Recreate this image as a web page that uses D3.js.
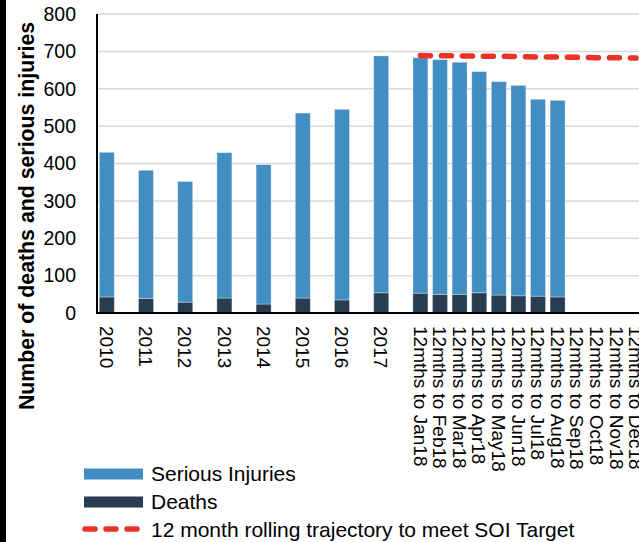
<!DOCTYPE html>
<html>
<head>
<meta charset="utf-8">
<script src="https://cdn.jsdelivr.net/npm/d3@7/dist/d3.min.js"></script>
<style>
  html, body { margin: 0; padding: 0; background: #fff; }
  svg { display: block; font-family: "Liberation Sans", Arial, sans-serif; }
</style>
</head>
<body>
<svg id="chart" width="639" height="542"></svg>
<script>
// Annual totals, then rolling 12-month totals for 2018
const categories = [
  "2010", "2011", "2012", "2013", "2014", "2015", "2016", "2017",
  "12mths to Jan18", "12mths to Feb18", "12mths to Mar18", "12mths to Apr18",
  "12mths to May18", "12mths to Jun18", "12mths to Jul18", "12mths to Aug18",
  "12mths to Sep18", "12mths to Oct18", "12mths to Nov18", "12mths to Dec18"
];
const annualCategories = ["2010", "2011", "2012", "2013", "2014", "2015", "2016", "2017"];

const deaths = [43, 39, 29, 40, 24, 40, 35, 54, 53, 50, 50, 54, 48, 46, 45, 43, null, null, null, null];
const seriousInjuries = [387, 343, 323, 389, 373, 495, 510, 634, 630, 628, 621, 592, 571, 563, 527, 526, null, null, null, null];

const trajectoryCategories = categories.slice(8);
const trajectory = [689, 688, 688, 687, 687, 686, 685, 685, 684, 683, 683, 682];

const yTicks = [0, 100, 200, 300, 400, 500, 600, 700, 800];

const colors = { serious: "#428ec2", deaths: "#283c52", target: "#ea3229", grid: "#d9d9d9" };

const svg = d3.select("#chart");
const W = 639, H = 542;
const plotLeft = 97, plotTop = 14, plotBottom = 313;

// Each annual column is followed by an empty spacer slot on the category axis
const slots = [];
categories.forEach(c => {
  slots.push(c);
  if (annualCategories.includes(c)) slots.push("gap " + c);
});

const step = 19.6;
const x = d3.scaleBand()
  .domain(slots)
  .range([plotLeft, plotLeft + slots.length * step])
  .paddingInner(0.235)
  .paddingOuter(0.1175);

const y = d3.scaleLinear().domain([0, 800]).range([plotBottom, plotTop]);

// frame edge at the left
svg.append("rect").attr("x", 0).attr("y", 0).attr("width", 6).attr("height", H).attr("fill", "#000");

// gridlines
svg.append("g").selectAll("line").data(yTicks.filter(t => t > 0)).join("line")
  .attr("x1", plotLeft).attr("x2", W)
  .attr("y1", d => y(d)).attr("y2", d => y(d))
  .attr("stroke", colors.grid).attr("stroke-width", 1.5);

// stacked bars
const rows = categories.map((c, i) => ({ c, d: deaths[i], s: seriousInjuries[i] })).filter(r => r.d != null);

const bars = svg.append("g");
bars.selectAll("rect.deaths").data(rows).join("rect")
  .attr("class", "deaths")
  .attr("x", r => x(r.c)).attr("width", x.bandwidth())
  .attr("y", r => y(r.d)).attr("height", r => y(0) - y(r.d))
  .attr("fill", colors.deaths)
  .attr("stroke", "#ffffff").attr("stroke-opacity", 0.35).attr("stroke-width", 0.8);
bars.selectAll("rect.serious").data(rows).join("rect")
  .attr("class", "serious")
  .attr("x", r => x(r.c)).attr("width", x.bandwidth())
  .attr("y", r => y(r.d + r.s)).attr("height", r => y(r.d) - y(r.d + r.s))
  .attr("fill", colors.serious)
  .attr("stroke", "#ffffff").attr("stroke-opacity", 0.45).attr("stroke-width", 0.8);

// target trajectory
const line = d3.line()
  .x((d, i) => x(trajectoryCategories[i]) + x.bandwidth() / 2)
  .y(d => y(d));
svg.append("path").datum(trajectory)
  .attr("d", line)
  .attr("fill", "none")
  .attr("stroke", colors.target).attr("stroke-width", 5.5)
  .attr("stroke-linecap", "round")
  .attr("stroke-dasharray", "10,11");

// y axis
const yAxis = d3.axisLeft(y).tickValues(yTicks).tickSize(0).tickPadding(21);
const gy = svg.append("g").attr("transform", `translate(${plotLeft},0)`).call(yAxis);
gy.select(".domain").remove();
gy.selectAll("text").attr("font-size", "19.5px").attr("fill", "#000")
  .attr("font-family", "'Liberation Sans', Arial, sans-serif");

svg.append("line").attr("x1", plotLeft).attr("x2", plotLeft).attr("y1", plotTop).attr("y2", plotBottom + 1)
  .attr("stroke", "#000").attr("stroke-width", 2);

// x axis
svg.append("line").attr("x1", plotLeft - 1).attr("x2", W).attr("y1", plotBottom).attr("y2", plotBottom)
  .attr("stroke", "#000").attr("stroke-width", 2);

const xAxis = d3.axisBottom(x).tickValues(categories).tickSize(0).tickPadding(0);
const gx = svg.append("g").attr("transform", `translate(0,${plotBottom})`).call(xAxis);
gx.select(".domain").remove();
gx.selectAll("text")
  .attr("font-size", "19px").attr("fill", "#000")
  .attr("font-family", "'Liberation Sans', Arial, sans-serif")
  .attr("text-anchor", "start")
  .attr("transform", "translate(0,13) rotate(90)")
  .attr("x", 0).attr("y", 0).attr("dy", "0.36em");

// y axis title
svg.append("text")
  .attr("transform", "translate(34,216) rotate(-90)")
  .attr("text-anchor", "middle")
  .attr("font-size", "21.3px").attr("font-weight", "bold").attr("fill", "#000")
  .text("Number of deaths and serious injuries");

// legend
const legend = svg.append("g");
const legendItems = [
  { label: "Serious Injuries", type: "rect", color: colors.serious, y: 474, base: 481 },
  { label: "Deaths", type: "rect", color: colors.deaths, y: 502, base: 508.5 },
  { label: "12 month rolling trajectory to meet SOI Target", type: "line", color: colors.target, y: 529, base: 536.5 }
];
legendItems.forEach(it => {
  if (it.type === "rect") {
    legend.append("rect").attr("x", 84).attr("y", it.y - 5.5).attr("width", 59).attr("height", 11).attr("fill", it.color);
  } else {
    legend.append("line").attr("x1", 85).attr("x2", 137).attr("y1", it.y).attr("y2", it.y)
      .attr("stroke", it.color).attr("stroke-width", 5.5).attr("stroke-linecap", "round")
      .attr("stroke-dasharray", "10,11");
  }
  legend.append("text").attr("x", 151).attr("y", it.base)
    .attr("font-size", "21px").attr("fill", "#000").text(it.label);
});
</script>
</body>
</html>
